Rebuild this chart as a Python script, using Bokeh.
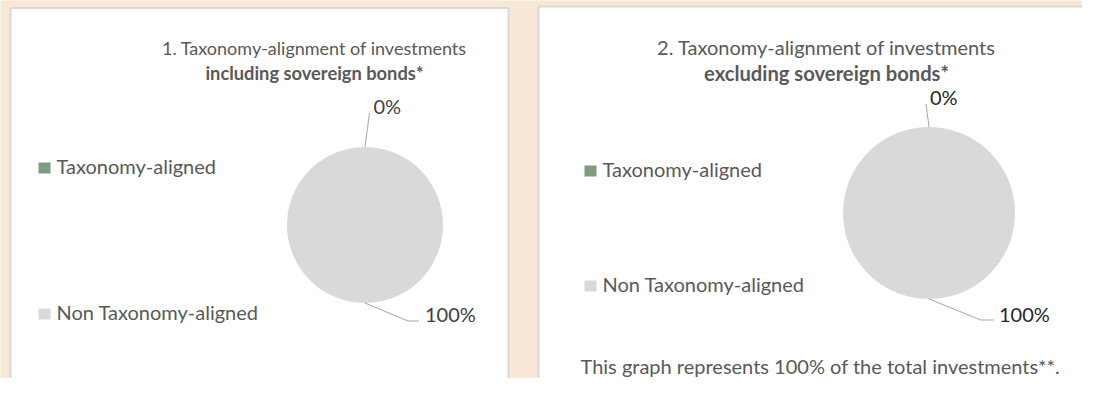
import math
from bokeh.plotting import figure
from bokeh.models import Range1d
from bokeh.core.properties import value
from bokeh.embed import file_html
from bokeh.resources import INLINE

# ---------------- data ----------------
categories = ["Taxonomy-aligned", "Non Taxonomy-aligned"]
incl_values = [0, 100]          # chart 1: including sovereign bonds (%)
excl_values = [0, 100]          # chart 2: excluding sovereign bonds (%)
slice_colors = ["#7f9c80", "#d9d9d9"]
title1 = ["1. Taxonomy-alignment of investments", "including sovereign bonds*"]
title2 = ["2. Taxonomy-alignment of investments", "excluding sovereign bonds*"]
footnote = "This graph represents 100% of the total investments**."

# ---------------- layout (reference pixel grid, y measured downward) ----------------
FONT = value("Lato")
TXT = "#595959"
BG = "#fae8d6"
H = 394
TDY = 8   # correction for text baseline placement


def Y(y):
    return H - y


def TY(y):
    return H - (y - TDY)


p = figure(width=1082, height=378, x_range=Range1d(0, 1082), y_range=Range1d(16, 394),
           output_backend="svg", toolbar_location=None, min_border=0,
           x_axis_type=None, y_axis_type=None,
           background_fill_color=BG, border_fill_color=BG, outline_line_color=None)
p.grid.visible = False

# panels
p.quad(left=[10, 538], right=[508, 1097], top=[Y(7.5), Y(6)], bottom=[Y(400), Y(400)],
       fill_color="white", line_color="#d9d9d9", line_width=2)


def panel(values, title, cx, cy, r, title_cx, title_size, bold_size, title_base,
          leg_x, leg_base, lbl_color, leaders):
    # title
    p.text(x=[title_cx], y=[TY(title_base[0])], text=[title[0]], text_font=FONT,
           text_font_size=title_size, text_color=TXT, text_align="center",
           text_baseline="alphabetic")
    p.text(x=[title_cx], y=[TY(title_base[1])], text=[title[1]], text_font=FONT,
           text_font_size=bold_size, text_font_style="bold", text_color=TXT,
           text_align="center", text_baseline="alphabetic")
    # pie slices (Excel style: start at 12 o'clock, clockwise)
    total = float(sum(values))
    cum = 0.0
    for i, v in enumerate(values):
        frac = v / total
        start = math.pi / 2 - 2 * math.pi * cum
        sweep = min(2 * math.pi * frac, 2 * math.pi - 1e-4)
        mid = start - math.pi * frac
        cum += frac
        if sweep > 0:
            p.wedge(x=[cx], y=[Y(cy)], radius=r, start_angle=start - sweep,
                    end_angle=start, direction="anticlock",
                    fill_color=slice_colors[i], line_color=None)
        # leader line from slice mid-angle edge
        ex = cx + r * math.cos(mid)
        ey = Y(cy) + r * math.sin(mid)
        dx, dy, hx, tx, tbase = leaders[i]
        xs = [ex, ex + dx]
        ys = [ey, ey + dy]
        if hx:
            xs.append(ex + dx + hx)
            ys.append(ey + dy)
        p.line(x=xs, y=ys, line_color="#a6a6a6", line_width=1)
        p.text(x=[xs[-1] + tx], y=[TY(tbase)], text=[f"{v}%"], text_font=FONT,
               text_font_size="20px", text_color=lbl_color, text_align="left",
               text_baseline="alphabetic")
    # legend
    for i, c in enumerate(categories):
        b = leg_base[i]
        p.quad(left=[leg_x], right=[leg_x + 12], top=[Y(b - 11)], bottom=[Y(b)],
               fill_color=slice_colors[i], line_color=None)
        p.text(x=[leg_x + 18], y=[TY(b)], text=[c], text_font=FONT,
               text_font_size="20px", text_color=TXT, text_align="left",
               text_baseline="alphabetic")


panel(incl_values, title1, 364.5, 224.5, 78, 314, "18px", "18.3px", (55, 80),
      38, (173, 319), "#404040",
      [(4.5, 34, 0, 4, 113), (43, -18, 11, 6, 321)])
panel(excl_values, title2, 928.5, 212.5, 86, 826, "20px", "20.2px", (54, 80),
      584, (176, 291), "#262626",
      [(-3, 23, 0, 4, 104), (52, -21, 13, 5, 321)])

p.text(x=[580], y=[TY(373)], text=[footnote], text_font=FONT, text_font_size="20px",
       text_color=TXT, text_align="left", text_baseline="alphabetic")

open("out.html", "w").write(file_html(p, INLINE))
